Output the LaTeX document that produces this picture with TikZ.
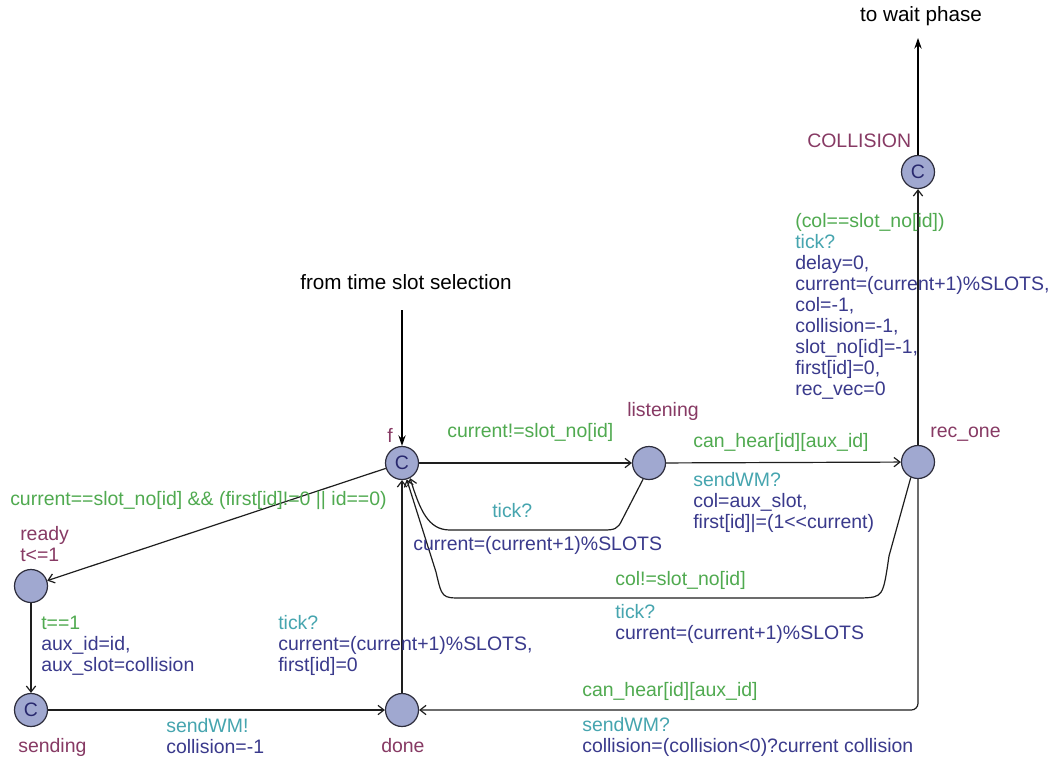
\documentclass[tikz,border=0pt]{standalone}
\usepackage{fontspec}
\setmainfont{Liberation Sans}
\usetikzlibrary{arrows.meta}
\definecolor{locfill}{RGB}{160,168,208}
\definecolor{locdraw}{RGB}{45,45,60}
\definecolor{nm}{RGB}{135,58,100}
\definecolor{gd}{RGB}{80,170,80}
\definecolor{sy}{RGB}{70,165,175}
\definecolor{up}{RGB}{58,58,140}
\definecolor{cc}{RGB}{40,40,110}
\definecolor{ln}{RGB}{30,30,30}
\newcommand\lblfont{\fontsize{14.6}{15.75}\selectfont}
\newcommand\blkfont{\fontsize{15.5}{17}\selectfont}
\begin{document}
\begin{tikzpicture}[x=0.75pt,y=-0.75pt,
  loc/.style={circle,draw=locdraw,fill=locfill,line width=0.9pt,minimum size=24.75pt,inner sep=0pt,font=\lblfont,text=cc},
  conn/.style={draw=ln,line width=0.9pt,-{Straight Barb[length=4.5pt,width=7pt]}},
  ext/.style={draw=black,line width=0.9pt,-{Stealth[length=8pt,width=5.5pt]}},
  lab/.style={inner sep=0pt,font=\lblfont,anchor=base west},
  blk/.style={inner sep=0pt,font=\lblfont,anchor=north west,align=left},
  locname/.style={lab,text=nm},
  guard/.style={lab,text=gd},
  sync/.style={lab,text=sy},
  upd/.style={lab,text=up},
  outer/.style={inner sep=0pt,font=\blkfont,anchor=base,text=black}
]
\fill[white] (0,0) rectangle (1056,761);
\useasboundingbox (0,0) rectangle (1056,761);

% locations
\node[loc] (f) at (402,463) {C};
\node[loc] (listening) at (649,463) {};
\node[loc] (recone) at (918,462) {};
\node[loc] (col) at (918,172) {C};
\node[loc] (ready) at (31,586) {};
\node[loc] (sending) at (31,710) {C};
\node[loc] (done) at (402,710) {};

% location names
\node[locname] (nf) at (387,442) {f};
\node[locname] (nlistening) at (627,416) {listening};
\node[locname] (nrecone) at (930,437) {rec\_one};
\node[locname] (ncol) at (807,147) {COLLISION};
\node[blk,text=nm] (nready) at (20,525.3) {\strut ready\\t<=1};
\node[locname] (nsending) at (18,752) {sending};
\node[locname] (ndone) at (381,752) {done};

% outer texts
\node[outer] (twait) at (921,21) {to wait phase};
\node[outer] (tslot) at (406,289) {from time slot selection};
\coordinate (waitpt) at (918,38);
\coordinate (slotpt) at (402,310);

% edges
\draw[ext] (col) -- (waitpt);
\draw[ext] (slotpt) -- (f);
\draw[conn] (f) -- (listening);
\draw[conn] (listening) -- (recone);
\draw[conn] (listening.250) -- (622,520) .. controls (618,529) and (614,530) .. (604,530) -- (450,530) .. controls (428,530) and (420,510) .. (f.-62);
\draw[conn] (recone.245) -- (889,556) .. controls (883,597) .. (862,598) -- (462,598) .. controls (442,598) .. (436,572) -- (f.-74);
\draw[conn] (recone) -- (col);
\draw[conn,rounded corners=5pt] (recone.south) |- (done.east);
\draw[conn] (f) -- (ready);
\draw[conn] (ready) -- (sending);
\draw[conn] (sending) -- (done);
\draw[conn] (done) -- (f);

% edge labels
\node[guard] (g1) at (447,437) {current!=slot\_no[id]};
\node[guard] (g2) at (693,447) {can\_hear[id][aux\_id]};
\node[blk,text=up] (u2) at (693,471.3) {\strut\textcolor{sy}{sendWM?}\\col=aux\_slot,\\first[id]|=(1<{}<current)};
\node[sync] (s3) at (492,517) {tick?};
\node[upd] (u3) at (413,550) {current=(current+1)\%SLOTS};
\node[guard] (g4) at (615,585) {col!=slot\_no[id]};
\node[blk,text=up] (u4) at (615,603.3) {\strut\textcolor{sy}{tick?}\\current=(current+1)\%SLOTS};
\node[blk,text=up] (u5) at (795,212.3) {\strut\textcolor{gd}{(col==slot\_no[id])}\\\textcolor{sy}{tick?}\\delay=0,\\current=(current+1)\%SLOTS,\\col=-1,\\collision=-1,\\slot\_no[id]=-1,\\first[id]=0,\\rec\_vec=0};
\node[guard] (g6) at (10,505) {current==slot\_no[id] \&\& (first[id]!=0 || id==0)};
\node[blk,text=up] (u7) at (41,614.3) {\strut\textcolor{gd}{t==1}\\aux\_id=id,\\aux\_slot=collision};
\node[blk,text=up] (u8) at (278,614.3) {\strut\textcolor{sy}{tick?}\\current=(current+1)\%SLOTS,\\first[id]=0};
\node[blk,text=up] (u9) at (166,717.3) {\strut\textcolor{sy}{sendWM!}\\collision=-1};
\node[guard] (g10) at (582,696) {can\_hear[id][aux\_id]};
\node[blk,text=up] (u10) at (582,716.3) {\strut\textcolor{sy}{sendWM?}\\collision=(collision<0)?current collision};
\end{tikzpicture}
\end{document}
